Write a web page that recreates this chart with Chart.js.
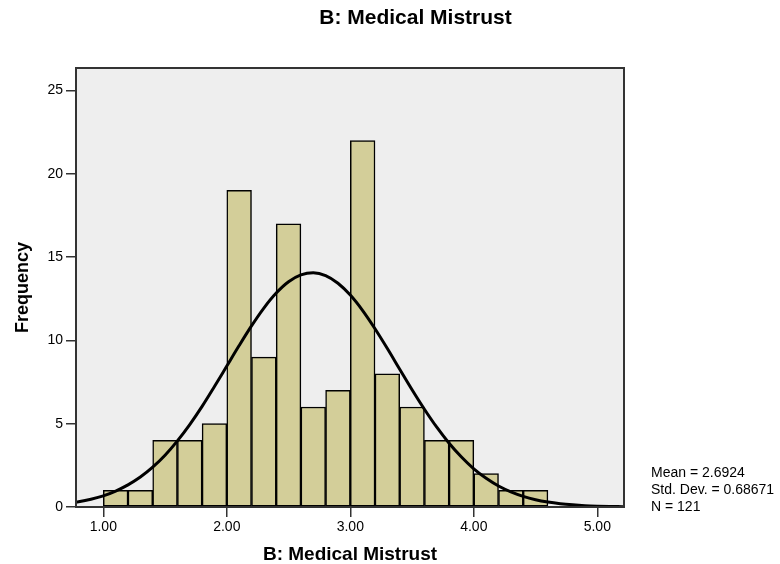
<!DOCTYPE html>
<html>
<head>
<meta charset="utf-8">
<script src="https://cdn.jsdelivr.net/npm/chart.js@4/dist/chart.umd.min.js"></script>
<style>
  body { margin: 0; background: #fff; }
</style>
</head>
<body>
<canvas id="myChart" width="780" height="564"></canvas>
<script>
// histogram bins (centres, width 0.2) and counts
const binCenters = [1.1, 1.3, 1.5, 1.7, 1.9, 2.1, 2.3, 2.5, 2.7, 2.9, 3.1, 3.3, 3.5, 3.7, 3.9, 4.1, 4.3, 4.5];
const binCounts = [1, 1, 4, 4, 5, 19, 9, 17, 6, 7, 22, 8, 6, 4, 4, 2, 1, 1];

// normal curve, every 0.1
const curveX = [0.6, 0.7, 0.8, 0.9, 1.0, 1.1, 1.2, 1.3, 1.4, 1.5, 1.6, 1.7, 1.8, 1.9, 2.0, 2.1, 2.2, 2.3, 2.4, 2.5,
  2.6, 2.7, 2.8, 2.9, 3.0, 3.1, 3.2, 3.3, 3.4, 3.5, 3.6, 3.7, 3.8, 3.9, 4.0, 4.1, 4.2, 4.3, 4.4, 4.5,
  4.6, 4.7, 4.8, 4.9, 5.0, 5.1, 5.2, 5.3];
const curveY = [0.14, 0.21, 0.32, 0.47, 0.67, 0.96, 1.33, 1.80, 2.39, 3.11, 3.97, 4.95, 6.04, 7.23, 8.46, 9.69, 10.87, 11.94, 12.84, 13.52,
  13.93, 14.06, 13.89, 13.43, 12.72, 11.79, 10.70, 9.51, 8.27, 7.04, 5.87, 4.79, 3.83, 3.00, 2.29, 1.72, 1.26, 0.91, 0.64, 0.44,
  0.30, 0.20, 0.13, 0.08, 0.05, 0.03, 0.02, 0.01];

const xTicks = [1, 2, 3, 4, 5];
const yTicks = [0, 5, 10, 15, 20, 25];
const chartTitle = 'B: Medical Mistrust';
const statsLines = ['Mean = 2.6924', 'Std. Dev. = 0.68671', 'N = 121'];

const FONT = 'Liberation Sans, Arial, sans-serif';

// grey plot area, frame, title and the stats note on the right
const plotBox = {
  id: 'plotBox',
  beforeDraw(chart) {
    const a = chart.chartArea;
    const ctx = chart.ctx;
    ctx.save();
    ctx.fillStyle = '#eeeeee';
    ctx.fillRect(a.left, a.top, a.right - a.left, a.bottom - a.top);
    ctx.restore();
  },
  afterDraw(chart) {
    const a = chart.chartArea;
    const ctx = chart.ctx;
    ctx.save();
    ctx.strokeStyle = '#333';
    ctx.lineWidth = 2;
    ctx.strokeRect(a.left, a.top, a.right - a.left, a.bottom - a.top);
    ctx.fillStyle = '#000';
    ctx.textBaseline = 'alphabetic';
    ctx.textAlign = 'center';
    ctx.font = 'bold 21px ' + FONT;
    ctx.fillText(chartTitle, 415.5, 23.5);
    ctx.textAlign = 'left';
    ctx.font = '14px ' + FONT;
    statsLines.forEach((t, i) => ctx.fillText(t, 651, 477 + i * 17));
    ctx.restore();
  }
};

const ctx = document.getElementById('myChart').getContext('2d');
const myChart = new Chart(ctx, {
  type: 'bar',
  data: {
    datasets: [{
      type: 'line',
      data: curveX.map((x, i) => ({ x: x, y: curveY[i] })),
      borderColor: '#000',
      borderWidth: 3,
      pointRadius: 0,
      cubicInterpolationMode: 'monotone',
      fill: false,
      clip: 0,
      order: 0
    }, {
      type: 'bar',
      data: binCenters.map((x, i) => ({ x: x, y: binCounts[i] })),
      backgroundColor: '#d3ce99',
      borderColor: '#000',
      borderWidth: 1.5,
      borderSkipped: false,
      barPercentage: 1,
      categoryPercentage: 1,
      order: 1
    }]
  },
  options: {
    responsive: false,
    animation: false,
    devicePixelRatio: 1,
    layout: { padding: { left: 0, right: 156, top: 68, bottom: 0 } },
    plugins: {
      legend: { display: false },
      tooltip: { enabled: false },
      title: { display: false }
    },
    scales: {
      x: {
        type: 'linear',
        min: 0.779,
        max: 5.216,
        offset: false,
        afterBuildTicks: (scale) => { scale.ticks = xTicks.map(v => ({ value: v })); },
        afterFit: (scale) => { scale.height = 57; },
        ticks: {
          color: '#000',
          font: { family: FONT, size: 14 },
          padding: 2,
          maxRotation: 0,
          callback: (v) => Number(v).toFixed(2)
        },
        grid: { offset: false, drawOnChartArea: false, drawTicks: true, tickLength: 10, color: '#333', lineWidth: 1.5 },
        border: { display: false },
        title: {
          display: true,
          text: 'B: Medical Mistrust',
          color: '#000',
          font: { family: FONT, size: 19, weight: 'bold', lineHeight: 1 },
          padding: { top: 0, bottom: 0 }
        }
      },
      y: {
        min: 0,
        max: 26.35,
        afterBuildTicks: (scale) => { scale.ticks = yTicks.map(v => ({ value: v })); },
        afterFit: (scale) => { scale.width = 76; },
        ticks: {
          color: '#000',
          font: { family: FONT, size: 14 },
          padding: 3
        },
        grid: { drawOnChartArea: false, drawTicks: true, tickLength: 10, color: '#333', lineWidth: 1.5 },
        border: { display: false },
        title: {
          display: true,
          text: 'Frequency',
          color: '#000',
          font: { family: FONT, size: 18, weight: 'bold' },
          padding: { top: 12, bottom: 0 }
        }
      }
    }
  },
  plugins: [plotBox]
});
</script>
</body>
</html>
